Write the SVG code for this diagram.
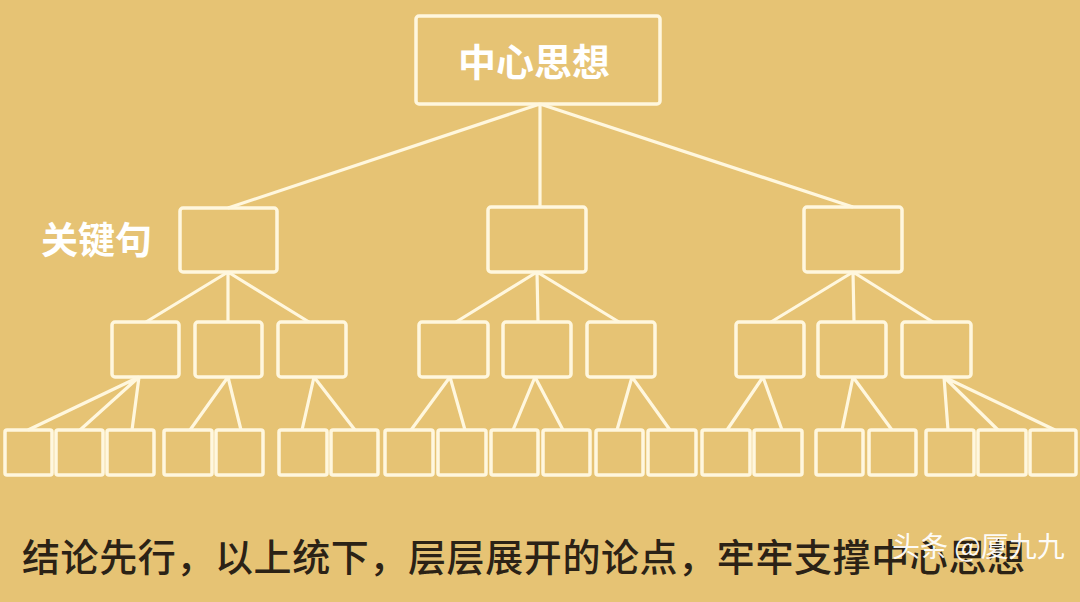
<svg xmlns="http://www.w3.org/2000/svg" width="1080" height="602" viewBox="0 0 1080 602">
<style>
.box{fill:none;stroke:#FFF7DE;stroke-width:3.5}
.ln{stroke:#FFF7DE;stroke-width:3.2;fill:none}
.wt{fill:#FFFFFF;font-family:"Noto Sans CJK SC","Noto Sans",sans-serif;font-weight:bold}
.cap{fill:#2B2216;font-family:"Noto Sans CJK SC","Noto Sans",sans-serif;font-size:38px;font-weight:500}
</style>
<rect width="1080" height="602" fill="#E6C374"/>
<g id="connectors">
<path class="ln" d="M540,104 L228,208 M540,104 L540,207 M540,104 L853,207"/>
<path class="ln" d="M228,272 L146,322 M228,272 L228,322 M228,272 L309,322"/>
<path class="ln" d="M537,272 L456,322 M537,272 L538,322 M537,272 L619,322"/>
<path class="ln" d="M853,272 L771,322 M853,272 L854,322 M853,272 L933,322"/>
<path class="ln" d="M139,377 L28,430 M139,377 L80,430 M139,377 L132,430"/>
<path class="ln" d="M228,377 L190,430 M228,377 L241,430"/>
<path class="ln" d="M314,377 L302,430 M314,377 L355,430"/>
<path class="ln" d="M450,377 L411,430 M450,377 L465,430"/>
<path class="ln" d="M535,377 L513,430 M535,377 L563,430"/>
<path class="ln" d="M632,377 L617,430 M632,377 L670,430"/>
<path class="ln" d="M763,377 L727,430 M763,377 L782,430"/>
<path class="ln" d="M853,377 L842,430 M853,377 L892,430"/>
<path class="ln" d="M944,377 L948,430 M944,377 L998,430 M944,377 L1055,430"/>
</g>
<g id="root"><rect class="box" x="416" y="16" width="244" height="88" rx="3"/><text class="wt" x="534" y="76" font-size="38" text-anchor="middle">中心思想</text></g>
<g id="label-key"><text class="wt" x="41" y="254" font-size="37">关键句</text></g>
<g id="l2-1"><rect class="box" x="180" y="208" width="97" height="64" rx="3"/></g>
<g id="l2-2"><rect class="box" x="488" y="207" width="98" height="65" rx="3"/></g>
<g id="l2-3"><rect class="box" x="804" y="207" width="98" height="65" rx="3"/></g>
<g id="l3-1"><rect class="box" x="112" y="322" width="67" height="55" rx="3"/></g>
<g id="l3-2"><rect class="box" x="195" y="322" width="67" height="55" rx="3"/></g>
<g id="l3-3"><rect class="box" x="278" y="322" width="68" height="55" rx="3"/></g>
<g id="l3-4"><rect class="box" x="419" y="322" width="69" height="55" rx="3"/></g>
<g id="l3-5"><rect class="box" x="503" y="322" width="68" height="55" rx="3"/></g>
<g id="l3-6"><rect class="box" x="587" y="322" width="68" height="55" rx="3"/></g>
<g id="l3-7"><rect class="box" x="736" y="322" width="68" height="55" rx="3"/></g>
<g id="l3-8"><rect class="box" x="818" y="322" width="68" height="55" rx="3"/></g>
<g id="l3-9"><rect class="box" x="902" y="322" width="69" height="55" rx="3"/></g>
<g id="l4-1"><rect class="box" x="5" y="430" width="47" height="45" rx="2"/></g>
<g id="l4-2"><rect class="box" x="56" y="430" width="47" height="45" rx="2"/></g>
<g id="l4-3"><rect class="box" x="107" y="430" width="47" height="45" rx="2"/></g>
<g id="l4-4"><rect class="box" x="164" y="430" width="48" height="45" rx="2"/></g>
<g id="l4-5"><rect class="box" x="216" y="430" width="47" height="45" rx="2"/></g>
<g id="l4-6"><rect class="box" x="279" y="430" width="48" height="45" rx="2"/></g>
<g id="l4-7"><rect class="box" x="331" y="430" width="47" height="45" rx="2"/></g>
<g id="l4-8"><rect class="box" x="385" y="430" width="48" height="45" rx="2"/></g>
<g id="l4-9"><rect class="box" x="438" y="430" width="48" height="45" rx="2"/></g>
<g id="l4-10"><rect class="box" x="491" y="430" width="47" height="45" rx="2"/></g>
<g id="l4-11"><rect class="box" x="543" y="430" width="47" height="45" rx="2"/></g>
<g id="l4-12"><rect class="box" x="596" y="430" width="47" height="45" rx="2"/></g>
<g id="l4-13"><rect class="box" x="648" y="430" width="48" height="45" rx="2"/></g>
<g id="l4-14"><rect class="box" x="702" y="430" width="48" height="45" rx="2"/></g>
<g id="l4-15"><rect class="box" x="754" y="430" width="48" height="45" rx="2"/></g>
<g id="l4-16"><rect class="box" x="816" y="430" width="47" height="45" rx="2"/></g>
<g id="l4-17"><rect class="box" x="869" y="430" width="47" height="45" rx="2"/></g>
<g id="l4-18"><rect class="box" x="926" y="430" width="48" height="45" rx="2"/></g>
<g id="l4-19"><rect class="box" x="978" y="430" width="48" height="45" rx="2"/></g>
<g id="l4-20"><rect class="box" x="1030" y="430" width="46" height="45" rx="2"/></g>
<g id="caption"><text class="cap" x="22" y="571" textLength="1003">结论先行，以上统下，层层展开的论点，牢牢支撑中心思想</text></g>
<g id="watermark"><text x="892" y="557" font-size="28" fill="#FFFFFF" fill-opacity="0.95" font-family="'Noto Sans CJK SC','Noto Sans',sans-serif">头条 @厦九九</text></g>
</svg>
